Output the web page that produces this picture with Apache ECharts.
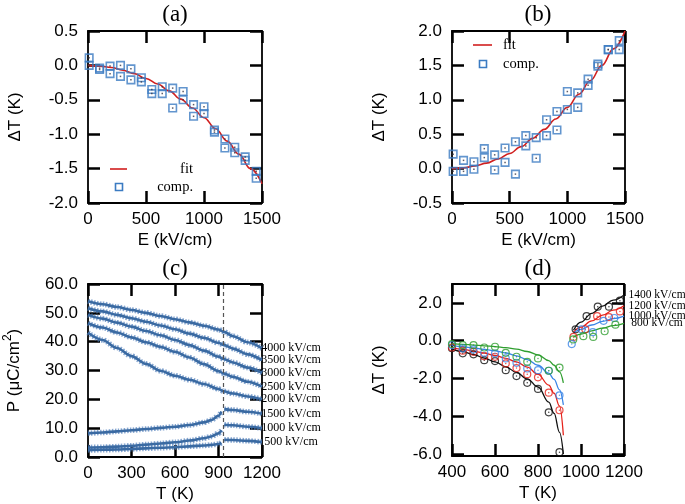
<!DOCTYPE html>
<html>
<head>
<meta charset="utf-8">
<script src="https://cdn.jsdelivr.net/npm/echarts@6/dist/echarts.min.js"></script>
<style>
html, body { margin: 0; padding: 0; background: #fff; }
#chart { width: 685px; height: 504px; }
</style>
</head>
<body>
<div id="chart"></div>
<script>
// ---- (a) / (b): ΔT vs E ----
const fieldFit = [0, 100, 200, 300, 400, 500, 600, 700, 800, 900, 1000, 1100, 1200, 1300, 1400, 1500];
const fitA = [0, -0.01, -0.03, -0.07, -0.12, -0.19, -0.27, -0.37, -0.49, -0.62, -0.76, -0.92, -1.10, -1.29, -1.50, -1.72];
const fitB = [0, 0.01, 0.04, 0.08, 0.14, 0.22, 0.32, 0.44, 0.57, 0.72, 0.89, 1.08, 1.28, 1.50, 1.74, 2.00];
const compE = [10, 10, 100, 100, 190, 190, 280, 280, 370, 370, 460, 460, 550, 550, 640, 640, 730, 730,
  820, 820, 910, 910, 1000, 1000, 1090, 1090, 1180, 1180, 1265, 1265, 1355, 1355, 1450, 1450];
const compA = [0.11, 0.0, -0.04, -0.06, -0.01, -0.12, 0.0, -0.16, -0.05, -0.21, -0.18, -0.24, -0.35, -0.41,
  -0.31, -0.41, -0.33, -0.62, -0.38, -0.50, -0.57, -0.74, -0.60, -0.70, -0.94, -0.97, -1.07, -1.20,
  -1.19, -1.27, -1.33, -1.38, -1.54, -1.64];
const compB = [0.21, -0.04, 0.12, -0.04, 0.10, -0.01, 0.29, 0.16, 0.20, -0.02, 0.30, 0.09, 0.39, -0.08,
  0.48, 0.33, 0.45, 0.15, 0.71, 0.48, 0.83, 0.56, 0.86, 1.12, 1.10, 0.89, 1.30, 1.21, 1.52, 1.49,
  1.73, 1.73, 1.86, 1.73];

// ---- (c): P vs T ----
const tempC = [0, 100, 200, 300, 400, 500, 600, 700, 800, 900, 935, 1000, 1100, 1200];
const p4000 = [54.0, 53.0, 52.0, 51.0, 50.0, 48.9, 47.8, 46.7, 45.5, 44.2, 43.5, 41.9, 39.8, 37.7];
const p3500 = [51.6, 50.5, 49.3, 48.1, 46.9, 45.6, 44.3, 42.8, 41.3, 39.6, 38.9, 37.6, 35.6, 33.6];
const p3000 = [49.3, 48.0, 46.6, 45.2, 43.7, 42.2, 40.6, 38.8, 36.9, 34.8, 34.0, 32.8, 31.0, 29.2];
const p2500 = [46.4, 44.9, 43.2, 41.5, 39.8, 38.2, 36.5, 34.5, 32.2, 29.8, 29.0, 27.8, 26.1, 24.4];
const p2000 = [43.1, 40.6, 37.8, 35.0, 32.3, 29.9, 28.2, 26.8, 25.3, 23.6, 22.8, 22.0, 21.0, 20.0];
const tempLow = [0, 100, 200, 300, 400, 500, 600, 700, 800, 850, 900, 920];
const tempHigh = [940, 1000, 1100, 1200];
const p1500Low = [8.2, 8.5, 8.9, 9.3, 9.7, 10.1, 10.5, 11.1, 12.0, 12.8, 14.3, 15.8];
const p1500High = [16.6, 16.3, 15.7, 15.0];
const p1000Low = [3.3, 3.4, 3.6, 3.9, 4.3, 4.7, 5.1, 5.7, 6.5, 7.1, 8.2, 9.3];
const p1000High = [11.2, 11.0, 10.5, 10.0];
const p500Low = [2.4, 2.5, 2.6, 2.8, 3.0, 3.2, 3.4, 3.7, 4.0, 4.2, 4.5, 4.9];
const p500High = [6.0, 5.9, 5.6, 5.2];
const tcC = 935;

// ---- (d): ΔT vs T ----
const tCirc = [400, 450, 500, 550, 600, 650, 700, 750, 800, 850, 900];
const c1400 = [-0.40, -0.67, -0.72, -1.03, -1.08, -1.56, -1.87, -2.23, -2.55, -3.79, -5.90];
const c1200 = [-0.36, -0.53, -0.59, -0.82, -0.85, -1.20, -1.45, -1.77, -1.94, -2.75, -3.68];
const c1000 = [-0.23, -0.41, -0.46, -0.64, -0.68, -0.94, -1.17, -1.47, -1.56, -1.59, -2.89];
const c800 = [-0.18, -0.23, -0.23, -0.36, -0.32, -0.64, -0.85, -1.12, -0.94, -1.59, -1.42];
const tHi1400 = [975, 1026, 1078, 1130, 1181];
const c1400Hi = [0.60, 1.30, 1.80, 1.80, 2.12];
const tHi1200 = [965, 1020, 1075, 1130, 1181];
const c1200Hi = [0.20, 0.60, 1.30, 1.25, 1.55];
const tHi1000 = [957, 1003, 1055, 1105, 1155];
const c1000Hi = [-0.18, 0.60, 0.45, 1.05, 1.20];
const tHi800 = [964, 1011, 1057, 1110, 1160];
const c800Hi = [0.07, 0.24, 0.20, 0.50, 0.85];
const tFitLo = [400, 450, 500, 550, 600, 650, 700, 750, 800, 850, 875, 900, 918];
const f1400Lo = [-0.45, -0.58, -0.73, -0.92, -1.12, -1.38, -1.68, -2.02, -2.45, -3.25, -3.85, -4.85, -6.0];
const f1200Lo = [-0.36, -0.45, -0.55, -0.66, -0.78, -0.93, -1.12, -1.40, -1.78, -2.35, -2.78, -3.45, -5.0];
const f1000Lo = [-0.25, -0.32, -0.38, -0.46, -0.54, -0.65, -0.80, -1.00, -1.30, -1.72, -2.05, -2.60, -3.4];
const f800Lo = [-0.15, -0.19, -0.23, -0.27, -0.31, -0.37, -0.45, -0.57, -0.75, -1.05, -1.30, -1.65, -2.23];
const tFitHi = [965, 1000, 1050, 1100, 1150, 1200];
const f1400Hi = [0.55, 0.98, 1.45, 1.83, 2.15, 2.42];
const f1200Hi = [0.45, 0.72, 1.05, 1.35, 1.62, 1.85];
const f1000Hi = [0.40, 0.60, 0.83, 1.02, 1.17, 1.30];
const f800Hi = [0.18, 0.35, 0.52, 0.67, 0.80, 0.92];

const sans = '"Liberation Sans", Arial, sans-serif';
const serif = '"Liberation Serif", "Times New Roman", serif';
const fitRed = '#d11f1f';
const sqBlue = '#3b7bc2';
const pBlue = '#3a6aa2';

const pts = (xs, ys) => xs.map((x, i) => [x, ys[i]]);

const lbl = { color: '#000', fontFamily: sans, fontSize: 17 };
const nameStyle = { color: '#000', fontFamily: sans, fontSize: 17 };
const frame = () => ({ show: true, onZero: false, lineStyle: { color: '#000', width: 1.8 } });
// only the far half of an inside tick shows next to the frame, hence the long length
const ticks = (custom) => {
  const t = { show: true, inside: true, length: 12, lineStyle: { color: '#000', width: 2.5 } };
  if (custom) t.customValues = custom;
  return t;
};

// one grid = bottom/top x axes + left/right y axes (ticks mirrored)
function xPair(g, min, max, interval, name) {
  return [
    { gridIndex: g, type: 'value', position: 'bottom', min, max, interval,
      axisLine: frame(), axisTick: ticks(), splitLine: { show: false },
      axisLabel: Object.assign({ margin: 8, formatter: v => String(v) }, lbl),
      name, nameLocation: 'middle', nameGap: 29, nameTextStyle: nameStyle },
    { gridIndex: g, type: 'value', position: 'top', min, max, interval,
      axisLine: frame(), axisTick: ticks(), splitLine: { show: false },
      axisLabel: { show: false } }
  ];
}
function yPair(g, min, max, interval, name, custom, nameGap) {
  const l = Object.assign({ margin: 10, formatter: v => v.toFixed(1) }, lbl);
  if (custom) l.customValues = custom;
  return [
    { gridIndex: g, type: 'value', position: 'left', min, max, interval,
      axisLine: frame(), axisTick: ticks(custom), splitLine: { show: false }, axisLabel: l,
      name, nameLocation: 'middle', nameGap: nameGap || 61, nameTextStyle: Object.assign({
        lineHeight: 24,
        rich: { sup: { fontFamily: sans, fontSize: 12, verticalAlign: 'top', lineHeight: 12 } }
      }, nameStyle) },
    { gridIndex: g, type: 'value', position: 'right', min, max, interval,
      axisLine: frame(), axisTick: ticks(custom), splitLine: { show: false },
      axisLabel: { show: false } }
  ];
}

const grid = [
  { left: 88, top: 31, width: 174, height: 172 },
  { left: 452, top: 31, width: 173, height: 172 },
  { left: 88, top: 284, width: 174, height: 173 },
  { left: 452, top: 284, width: 172, height: 172 }
];

const xAxis = [].concat(
  xPair(0, 0, 1500, 500, 'E (kV/cm)'),
  xPair(1, 0, 1500, 500, 'E (kV/cm)'),
  xPair(2, 0, 1200, 300, 'T (K)'),
  xPair(3, 400, 1200, 200, 'T (K)')
);
const yAxis = [].concat(
  yPair(0, -2, 0.5, 0.5, 'ΔT (K)'),
  yPair(1, -0.5, 2.0, 0.5, 'ΔT (K)'),
  yPair(2, 0, 60, 10, 'P (μC/cm{sup|2})', null, 62),
  yPair(3, -6.1, 3.0, 2, 'ΔT (K)', [-6, -4, -2, 0, 2])
);

const series = [];

function squares(g, xs, ys) {
  series.push({ type: 'scatter', xAxisIndex: 2 * g, yAxisIndex: 2 * g, data: pts(xs, ys),
    symbol: 'rect', symbolSize: 7.5, z: 4,
    itemStyle: { color: 'rgba(255,255,255,0)', borderColor: sqBlue, borderWidth: 1.6 } });
  series.push({ type: 'scatter', xAxisIndex: 2 * g, yAxisIndex: 2 * g, data: pts(xs, ys),
    symbol: 'rect', symbolSize: 1.5, z: 4, itemStyle: { color: '#334' } });
}
function fitLine(g, xs, ys, color, extra) {
  series.push(Object.assign({ type: 'line', xAxisIndex: 2 * g, yAxisIndex: 2 * g, data: pts(xs, ys),
    symbol: 'none', smooth: 0.4, smoothMonotone: 'x', z: 3,
    lineStyle: { color, width: 1.6 } }, extra || {}));
}
function circles(xs, ys, color) {
  series.push({ type: 'scatter', xAxisIndex: 6, yAxisIndex: 6, data: pts(xs, ys),
    symbol: 'circle', symbolSize: 7, z: 4,
    itemStyle: { color: 'rgba(255,255,255,0)', borderColor: color, borderWidth: 1.2 } });
  series.push({ type: 'scatter', xAxisIndex: 6, yAxisIndex: 6, data: pts(xs, ys),
    symbol: 'circle', symbolSize: 1.5, z: 4, itemStyle: { color } });
}
function pCurve(xs, ys, label, extra) {
  const common = { type: 'line', xAxisIndex: 4, yAxisIndex: 4, data: pts(xs, ys),
    symbol: 'none', smooth: 0.3, smoothMonotone: 'x' };
  series.push(Object.assign({}, common, { z: 3, lineStyle: { color: pBlue, width: 2.6 },
    endLabel: label ? { show: true, formatter: label, distance: 29, align: 'center',
      color: '#000', fontFamily: serif, fontSize: 12 } : { show: false } }, extra || {}));
  // serrated overlay mimicking the dense star markers
  series.push(Object.assign({}, common, { z: 2,
    lineStyle: { color: 'rgba(70,120,185,0.65)', width: 5.5, type: [1.5, 1.5] } }));
}

// (a)
fitLine(0, fieldFit, fitA, fitRed);
squares(0, compE, compA);
// (b)
fitLine(1, fieldFit, fitB, fitRed);
squares(1, compE, compB);
// (c)
pCurve(tempC, p4000, '4000 kV/cm', {
  markLine: { silent: true, symbol: 'none', label: { show: false },
    lineStyle: { type: [4, 3], color: '#555', width: 1.2 }, data: [{ xAxis: tcC }] }
});
pCurve(tempC, p3500, '3500 kV/cm');
pCurve(tempC, p3000, '3000 kV/cm');
pCurve(tempC, p2500, '2500 kV/cm');
pCurve(tempC, p2000, '2000 kV/cm');
pCurve(tempLow, p1500Low, null);
pCurve(tempHigh, p1500High, '1500 kV/cm');
pCurve(tempLow, p1000Low, null);
pCurve(tempHigh, p1000High, '1000 kV/cm');
pCurve(tempLow, p500Low, null);
pCurve(tempHigh, p500High, '500 kV/cm');
// (d)
const dSets = [
  ['#111111', c1400, tHi1400, c1400Hi, f1400Lo, f1400Hi, '1400 kV/cm'],
  ['#e5231c', c1200, tHi1200, c1200Hi, f1200Lo, f1200Hi, '1200 kV/cm'],
  ['#3a85e6', c1000, tHi1000, c1000Hi, f1000Lo, f1000Hi, '1000 kV/cm'],
  ['#2f9e2f', c800, tHi800, c800Hi, f800Lo, f800Hi, '800 kV/cm']
];
dSets.forEach(([color, cLo, tHi, cHi, fLo, fHi, name]) => {
  fitLine(3, tFitLo, fLo, color, { lineStyle: { color, width: 1.3 } });
  fitLine(3, tFitHi, fHi, color, { lineStyle: { color, width: 1.3 },
    endLabel: { show: true, formatter: name, distance: 33, align: 'center',
      color: '#000', fontFamily: serif, fontSize: 11.5 } });
  circles(tCirc, cLo, color);
  circles(tHi, cHi, color);
});

const legendText = { fill: '#000', fontFamily: serif, fontSize: 14.5, verticalAlign: 'middle' };
const titleText = { fill: '#000', fontFamily: serif, fontSize: 23, align: 'center', verticalAlign: 'middle' };
const graphic = [
  { type: 'text', x: 175, y: 15, style: Object.assign({ text: '(a)' }, titleText) },
  { type: 'text', x: 538, y: 15, style: Object.assign({ text: '(b)' }, titleText) },
  { type: 'text', x: 175, y: 269, style: Object.assign({ text: '(c)' }, titleText) },
  { type: 'text', x: 538, y: 269, style: Object.assign({ text: '(d)' }, titleText) },
  // legend (a)
  { type: 'line', shape: { x1: 110, y1: 169, x2: 127, y2: 169 }, style: { stroke: fitRed, lineWidth: 1.6 } },
  { type: 'text', x: 193, y: 169, style: Object.assign({ text: 'fit', align: 'right' }, legendText) },
  { type: 'rect', shape: { x: 115.5, y: 183.5, width: 7, height: 7 }, style: { fill: 'none', stroke: sqBlue, lineWidth: 1.6 } },
  { type: 'text', x: 193, y: 187, style: Object.assign({ text: 'comp.', align: 'right' }, legendText) },
  // legend (b)
  { type: 'line', shape: { x1: 473, y1: 45, x2: 492, y2: 45 }, style: { stroke: fitRed, lineWidth: 1.6 } },
  { type: 'text', x: 503, y: 45, style: Object.assign({ text: 'fit', align: 'left' }, legendText) },
  { type: 'rect', shape: { x: 479.5, y: 60.5, width: 7, height: 7 }, style: { fill: 'none', stroke: sqBlue, lineWidth: 1.6 } },
  { type: 'text', x: 503, y: 64, style: Object.assign({ text: 'comp.', align: 'left' }, legendText) }
];

const chart = echarts.init(document.getElementById('chart'));
chart.setOption({
  animation: false,
  backgroundColor: '#fff',
  grid, xAxis, yAxis, series, graphic
});
</script>
</body>
</html>
